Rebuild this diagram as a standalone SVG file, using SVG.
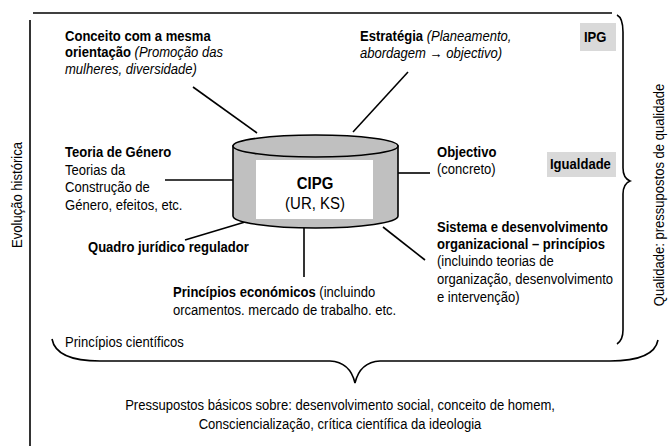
<svg xmlns="http://www.w3.org/2000/svg" width="668" height="446" viewBox="0 0 668 446">
<style>
text{font-family:"Liberation Sans",Arial,sans-serif;font-size:14.5px;fill:#000}
.b{font-weight:bold}
.i{font-style:italic}
.ln{stroke:#000;stroke-width:1.6;fill:none}
.tag{fill:#d9d9d9}
</style>
<rect width="668" height="446" fill="#fff"/>
<g id="frame">
<line class="ln" x1="33" y1="13" x2="612" y2="13"/>
<line class="ln" x1="30" y1="20" x2="30" y2="446"/>
<path class="ln" d="M617,15 Q623,18 623,32 L623,168 Q623,178 630,181 Q623,184 623,194 L623,330 Q623,340 617,344"/>
<path class="ln" d="M52,339 Q56,361 100,361 L330,361 Q350,362 355,383 Q360,362 380,361 L610,361 Q654,361 658,340"/>
</g>
<g id="connectors">
<line class="ln" x1="193" y1="87" x2="257" y2="133"/>
<line class="ln" x1="408" y1="72" x2="353" y2="132"/>
<line class="ln" x1="165" y1="180" x2="233" y2="180"/>
<line class="ln" x1="398" y1="173" x2="430" y2="173"/>
<line class="ln" x1="185" y1="240" x2="245" y2="222"/>
<line class="ln" x1="304" y1="228" x2="304" y2="277"/>
<line class="ln" x1="383" y1="227" x2="425" y2="260"/>
</g>
<g id="cipg">
<path d="M233,146 L233,216 A82.5,12 0 0 0 398,216 L398,146 Z" fill="#c0c0c0" stroke="#000" stroke-width="1.6"/>
<ellipse cx="315.5" cy="146" rx="82.5" ry="11" fill="#c0c0c0" stroke="#000" stroke-width="1.6"/>
<rect x="256" y="160" width="117" height="59" fill="#fff"/>
<g transform="translate(315,0) scale(0.88,1)">
<text x="0" y="189" class="b" style="font-size:17px" text-anchor="middle">CIPG</text>
<text x="0" y="209" style="font-size:17px" text-anchor="middle">(UR, KS)</text>
</g>
</g>
<g id="conceito" transform="translate(65,0) scale(0.9,1)">
<text x="0" y="41" class="b">Conceito com a mesma</text>
<text x="0" y="57"><tspan class="b">orientação</tspan> <tspan class="i">(Promoção das</tspan></text>
<text x="0" y="74" class="i">mulheres, diversidade)</text>
</g>
<g id="estrategia" transform="translate(360,0) scale(0.9,1)">
<text x="0" y="41"><tspan class="b">Estratégia</tspan> <tspan class="i">(Planeamento,</tspan></text>
<text x="0" y="58" class="i">abordagem → objectivo)</text>
</g>
<g id="ipg">
<rect class="tag" x="580" y="23" width="36" height="28"/>
<text transform="translate(584,42) scale(0.9,1)" class="b">IPG</text>
</g>
<g id="igualdade">
<rect class="tag" x="547" y="152" width="69" height="25"/>
<text transform="translate(550,169) scale(0.9,1)" class="b">Igualdade</text>
</g>
<g id="teoria" transform="translate(65,0) scale(0.9,1)">
<text x="0" y="157" class="b">Teoria de Género</text>
<text x="0" y="175">Teorias da</text>
<text x="0" y="192">Construção de</text>
<text x="0" y="210">Género, efeitos, etc.</text>
</g>
<g id="objectivo" transform="translate(437,0) scale(0.9,1)">
<text x="0" y="157" class="b">Objectivo</text>
<text x="0" y="174">(concreto)</text>
</g>
<g id="quadro">
<text transform="translate(88,252) scale(0.9,1)" class="b">Quadro jurídico regulador</text>
</g>
<g id="sistema" transform="translate(437,0) scale(0.9,1)">
<text x="0" y="232" class="b">Sistema e desenvolvimento</text>
<text x="0" y="249" class="b">organizacional – princípios</text>
<text x="0" y="266">(incluindo teorias de</text>
<text x="0" y="284">organização, desenvolvimento</text>
<text x="0" y="302">e intervenção)</text>
</g>
<g id="economicos" transform="translate(173,0) scale(0.9,1)">
<text x="0" y="297"><tspan class="b">Princípios económicos</tspan> (incluindo</text>
<text x="0" y="315">orcamentos. mercado de trabalho. etc.</text>
</g>
<g id="labels">
<text transform="translate(65,347) scale(0.9,1)">Princípios científicos</text>
<g transform="translate(340,0) scale(0.9,1)">
<text x="0" y="410" text-anchor="middle">Pressupostos básicos sobre: desenvolvimento social, conceito de homem,</text>
<text x="0" y="429" text-anchor="middle">Consciencialização, crítica científica da ideologia</text>
</g>
<text transform="translate(22,195) rotate(-90) scale(0.9,1)" text-anchor="middle">Evolução histórica</text>
<text transform="translate(664,195) rotate(-90) scale(0.9,1)" text-anchor="middle">Qualidade: pressupostos de qualidade</text>
</g>
</svg>
